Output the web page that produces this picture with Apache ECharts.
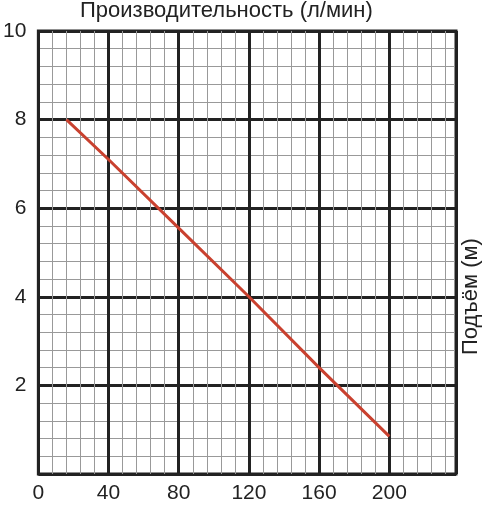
<!DOCTYPE html>
<html><head><meta charset="utf-8">
<script src="https://cdn.jsdelivr.net/npm/echarts@6/dist/echarts.min.js"></script>
<style>html,body{margin:0;padding:0;background:#fff}#c{width:485px;height:507px}</style>
</head><body><div id="c"></div>
<script>
const flowValues = [16, 40, 80, 120, 160, 200];
const headValues = [8, 7.1, 5.55, 4, 2.4, 0.85];
const xTickLabels = [0, 40, 80, 120, 160, 200];
const yTickLabels = [2, 4, 6, 8, 10];
const titleText = 'Производительность (л/мин)';
const yName = 'Подъём (м)';

const chart = echarts.init(document.getElementById('c'));
chart.setOption({
  animation: false,
  grid: {left: 32, right: 29, top: 31, bottom: 33, show: true, borderColor: '#222', borderWidth: 3},
  graphic: [
    {type: 'text', left: 80, top: 0, style: {text: titleText, font: '22px "Liberation Sans", Arial', fill: '#222'}},
    {type: 'text', x: 460, y: 355, rotation: Math.PI/2, style: {text: yName, font: '22px "Liberation Sans", Arial', fill: '#222'}}
  ],
  xAxis: {
    type: 'value', min: 0, max: 238, interval: 40,
    axisLine: {show: false}, axisTick: {show: false},
    axisLabel: {color: '#222', fontSize: 21, fontFamily: 'Liberation Sans', margin: 9,
      formatter: v => xTickLabels.includes(v) ? String(v) : ''},
    splitLine: {show: true, lineStyle: {color: '#222', width: 3}},
    minorTick: {show: false, splitNumber: 5},
    minorSplitLine: {show: true, lineStyle: {color: '#999', width: 1}}
  },
  yAxis: {
    type: 'value', min: 0, max: 10, interval: 2,
    axisLine: {show: false}, axisTick: {show: false},
    axisLabel: {color: '#222', fontSize: 21, fontFamily: 'Liberation Sans', margin: 12,
      formatter: v => yTickLabels.includes(v) ? String(v) : ''},
    splitLine: {show: true, lineStyle: {color: '#222', width: 3}},
    minorTick: {show: false, splitNumber: 5},
    minorSplitLine: {show: true, lineStyle: {color: '#999', width: 1}}
  },
  series: [{
    type: 'line', data: flowValues.map((x, i) => [x, headValues[i]]),
    symbol: 'none', lineStyle: {color: '#c9412f', width: 3}
  }]
});
</script></body></html>
